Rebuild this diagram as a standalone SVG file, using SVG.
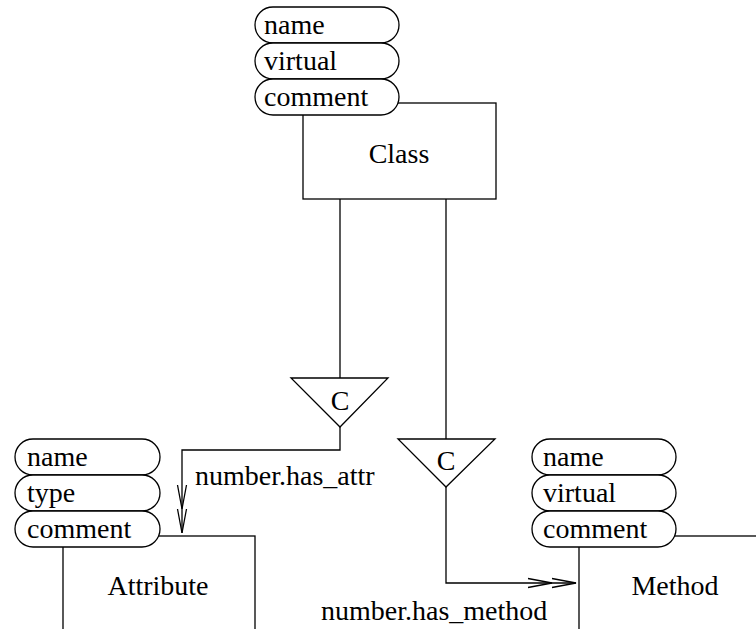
<svg xmlns="http://www.w3.org/2000/svg" width="756" height="629" viewBox="0 0 756 629">
<style>
  .box { fill: #fff; stroke: #000; stroke-width: 1.3; }
  .pill { fill: #fff; stroke: #000; stroke-width: 1.3; }
  .line { fill: none; stroke: #000; stroke-width: 1.3; }
  text { font-family: "Liberation Serif", "Times New Roman", serif; font-size: 28px; fill: #000; }
  .c { text-anchor: middle; }
</style>
<defs>
  <marker id="dbl" viewBox="-50 -7 52 14" refX="0" refY="0" markerWidth="52" markerHeight="14" markerUnits="userSpaceOnUse" orient="auto">
    <path d="M-24,-4.5 L0,0 L-24,4.5 M-48,-4.5 L-24,0 L-48,4.5" fill="none" stroke="#000" stroke-width="1.3"/>
  </marker>
</defs>
<rect width="756" height="629" fill="#fff"/>

<g id="connectors">
  <path class="line" d="M340 199 V378"/>
  <polygon class="box" points="291,378 388,378 340,427"/>
  <text class="c" x="340" y="410">C</text>
  <path class="line" d="M340 427 V450 H182 V533" marker-end="url(#dbl)"/>
  <text x="195" y="485">number.has_attr</text>
  <path class="line" d="M446 199 V439"/>
  <polygon class="box" points="398,439 495,439 446,487"/>
  <text class="c" x="446" y="470">C</text>
  <path class="line" d="M446 487 V583 H576" marker-end="url(#dbl)"/>
  <text x="321" y="620">number.has_method</text>
</g>

<g id="class">
  <rect class="box" x="303" y="103" width="193" height="96"/>
  <text class="c" x="399" y="163">Class</text>
  <rect class="pill" x="255" y="7" width="144" height="36" rx="18" ry="18"/>
  <text x="264" y="34">name</text>
  <rect class="pill" x="255" y="43" width="144" height="36" rx="18" ry="18"/>
  <text x="264" y="70">virtual</text>
  <rect class="pill" x="255" y="79" width="144" height="36" rx="18" ry="18"/>
  <text x="264" y="106">comment</text>
</g>

<g id="attribute">
  <rect class="box" x="63" y="536" width="192" height="120"/>
  <text class="c" x="158" y="595">Attribute</text>
  <rect class="pill" x="15" y="439" width="145" height="36" rx="18" ry="18"/>
  <text x="27" y="466">name</text>
  <rect class="pill" x="15" y="475" width="145" height="36" rx="18" ry="18"/>
  <text x="27" y="502">type</text>
  <rect class="pill" x="15" y="511" width="145" height="36" rx="18" ry="18"/>
  <text x="27" y="538">comment</text>
</g>

<g id="method">
  <rect class="box" x="579" y="536" width="200" height="120"/>
  <text class="c" x="675" y="595">Method</text>
  <rect class="pill" x="532" y="439" width="144" height="36" rx="18" ry="18"/>
  <text x="543" y="466">name</text>
  <rect class="pill" x="532" y="475" width="144" height="36" rx="18" ry="18"/>
  <text x="543" y="502">virtual</text>
  <rect class="pill" x="532" y="511" width="144" height="36" rx="18" ry="18"/>
  <text x="543" y="538">comment</text>
</g>
</svg>
